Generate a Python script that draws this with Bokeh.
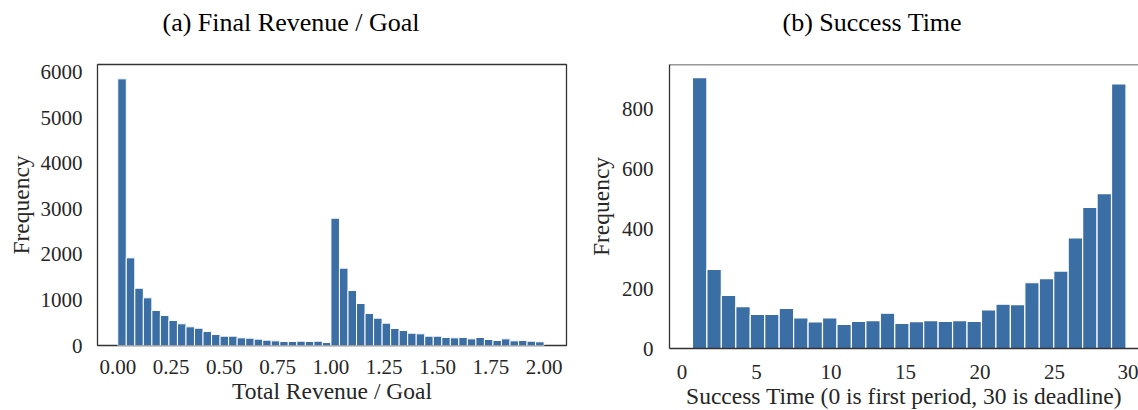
import numpy as np
from bokeh.plotting import figure
from bokeh.models import Title, FixedTicker, NumeralTickFormatter, Span, Range1d, ColumnDataSource
from bokeh.layouts import row
from bokeh.embed import file_html
from bokeh.resources import INLINE

# ---------------- data ----------------
# (a) Final Revenue / Goal : 50 bins of width 0.04 from 0.00 to 2.00
revenue_bin_start = 0.0
revenue_bin_width = 0.04
revenue_counts = [5855, 1925, 1258, 1047, 768, 659, 549, 476, 410, 380,
                  307, 241, 205, 205, 168, 161, 139, 117, 102, 88,
                  88, 95, 88, 95, 66,
                  2795, 1698, 1207, 922, 703, 600, 490, 373, 329, 271,
                  256, 205, 205, 176, 168, 176, 146, 176, 132, 110,
                  146, 102, 110, 95, 81]
revenue_xticks = [0.0, 0.25, 0.5, 0.75, 1.0, 1.25, 1.5, 1.75, 2.0]
revenue_yticks = [0, 1000, 2000, 3000, 4000, 5000, 6000]

# (b) Success Time : 30 bins
success_bin_start = 0.7
success_bin_width = 0.97
success_counts = [906, 265, 178, 140, 114, 114, 134, 102, 89, 102,
                  81, 91, 93, 118, 84, 90, 93, 91, 93, 91,
                  129, 148, 147, 220, 234, 259, 370, 472, 518, 885]
success_xticks = [0, 5, 10, 15, 20, 25, 30]
success_yticks = [0, 200, 400, 600, 800]

titles = ["(a) Final Revenue / Goal", "(b) Success Time"]
xlabels = ["Total Revenue / Goal", "Success Time (0 is first period, 30 is deadline)"]
ylabel = "Frequency"

# ---------------- style ----------------
FONT = "Liberation Serif"
BAR = "#3B6EA5"
FRAME = "#333333"
TXT = "#262626"


def bins(start, width, counts):
    n = len(counts)
    left = [start + width * i for i in range(n)]
    right = [start + width * (i + 1) for i in range(n)]
    return ColumnDataSource(dict(left=left, right=right, top=counts, bottom=[0] * n))


def style(p, xticks, yticks, xfmt=None):
    p.grid.visible = False
    for ax in (p.xaxis[0], p.yaxis[0]):
        ax.major_tick_line_color = None
        ax.minor_tick_line_color = None
        ax.major_tick_out = 0
        ax.major_tick_in = 0
        ax.major_label_text_font = FONT
        ax.major_label_text_font_size = "21px"
        ax.major_label_text_color = TXT
        ax.axis_label_text_font = FONT
        ax.axis_label_text_font_size = "23.5px"
        ax.axis_label_text_font_style = "normal"
        ax.axis_label_text_color = TXT
    p.xaxis.ticker = FixedTicker(ticks=xticks)
    p.yaxis.ticker = FixedTicker(ticks=yticks)
    if xfmt:
        p.xaxis.formatter = NumeralTickFormatter(format=xfmt)


def add_title(p, text, offset, spacer_standoff):
    p.add_layout(Title(text=" ", text_font_size="10px", standoff=spacer_standoff), "above")
    p.add_layout(Title(text=text, align="left", offset=offset, text_font=FONT,
                       text_font_size="26px", text_font_style="normal", text_color="black",
                       vertical_align="top", standoff=0), "above")


# ---------------- left panel ----------------
p1 = figure(frame_width=469, frame_height=281,
            x_range=Range1d(-0.095, 2.105), y_range=Range1d(0, 6170),
            output_backend="svg", toolbar_location=None,
            min_border_left=97, min_border_right=14, min_border_top=64, min_border_bottom=64)
p1.quad(left="left", right="right", top="top", bottom="bottom",
        source=bins(revenue_bin_start, revenue_bin_width, revenue_counts),
        fill_color=BAR, line_color="white", line_width=1)
style(p1, revenue_xticks, revenue_yticks, xfmt="0.00")
p1.xaxis.axis_label = xlabels[0]
p1.yaxis.axis_label = ylabel
p1.xaxis.major_label_standoff = 14
p1.xaxis.axis_label_standoff = 1
p1.yaxis.major_label_standoff = 15
p1.yaxis.axis_label_standoff = 4
p1.xaxis.axis_line_color = None
p1.yaxis.axis_line_color = None
p1.outline_line_color = FRAME
p1.outline_line_width = 1.3
p1.outline_line_alpha = 1
add_title(p1, titles[0], 65, 13)

# ---------------- right panel ----------------
p2 = figure(frame_width=469, frame_height=284,
            x_range=Range1d(-0.84, 30.64), y_range=Range1d(0, 950),
            output_backend="svg", toolbar_location=None,
            min_border_left=89, min_border_right=0, min_border_top=63, min_border_bottom=62)
p2.quad(left="left", right="right", top="top", bottom="bottom",
        source=bins(success_bin_start, success_bin_width, success_counts),
        fill_color=BAR, line_color="white", line_width=1.2)
style(p2, success_xticks, success_yticks)
p2.xaxis.axis_label = xlabels[1]
p2.yaxis.axis_label = ylabel
p2.xaxis.major_label_standoff = 16
p2.xaxis.axis_label_standoff = 1
p2.yaxis.major_label_standoff = 16
p2.yaxis.axis_label_standoff = 5
p2.outline_line_color = None
for ax in (p2.xaxis[0], p2.yaxis[0]):
    ax.axis_line_color = FRAME
    ax.axis_line_width = 1.3
p2.add_layout(Span(location=950, dimension="width", line_color=FRAME, line_width=1.3))
add_title(p2, titles[1], 113, 13)

layout = row(p1, p2)
open("out.html", "w").write(file_html(layout, INLINE))
